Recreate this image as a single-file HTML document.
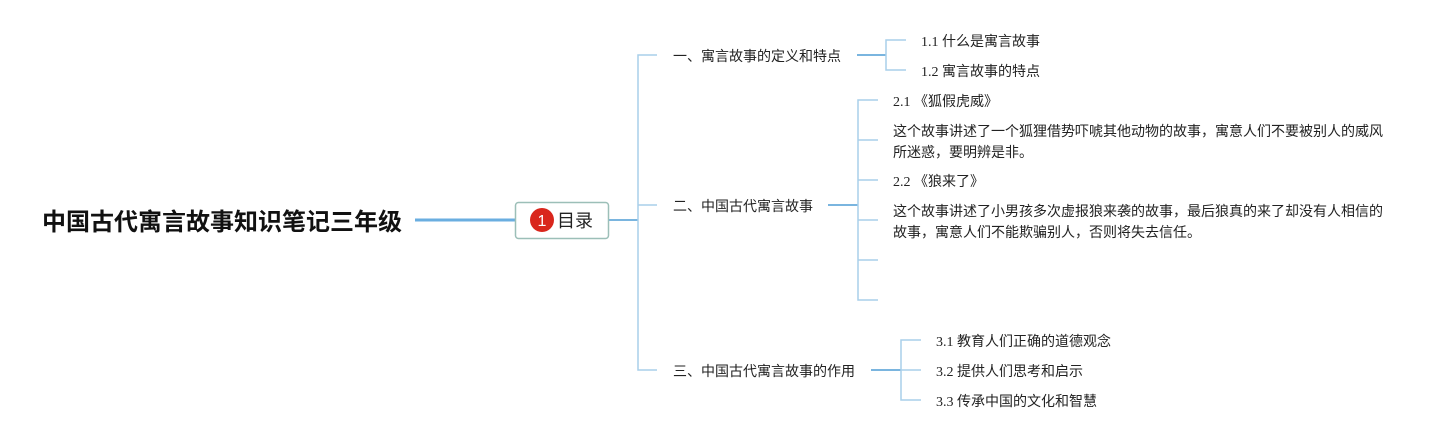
<!DOCTYPE html>
<html><head><meta charset="utf-8"><style>
body{margin:0;background:#fff;width:1453px;height:440px;position:relative;overflow:hidden;font-family:"Liberation Serif","Noto Sans CJK SC",sans-serif;color:#222}
.t{position:absolute;font-size:14px;line-height:21px;white-space:nowrap}
</style></head><body>
<svg width="1453" height="440" style="position:absolute;left:0;top:0">
<g fill="none" stroke-linecap="butt">
<line x1="415" y1="220" x2="515" y2="220" stroke="#6aaee0" stroke-width="3"/>
<line x1="608" y1="220" x2="638" y2="220" stroke="#7ab5df" stroke-width="2"/>
<path d="M657 55H638V370H657M638 205H657" stroke="#a9cfea" stroke-width="1.5"/>
<line x1="857" y1="55" x2="886" y2="55" stroke="#7ab5df" stroke-width="2"/>
<path d="M906 40H886V70H906" stroke="#a9cfea" stroke-width="1.5"/>
<line x1="828" y1="205" x2="858" y2="205" stroke="#7ab5df" stroke-width="2"/>
<path d="M878 100H858V300H878M858 140H878M858 180H878M858 220H878M858 260H878" stroke="#a9cfea" stroke-width="1.5"/>
<line x1="871" y1="370" x2="901" y2="370" stroke="#7ab5df" stroke-width="2"/>
<path d="M921 340H901V400H921M901 370H921" stroke="#a9cfea" stroke-width="1.5"/>
</g>
<rect x="515.5" y="202.5" width="93" height="36" rx="3" fill="#fff" stroke="#9cbfb8" stroke-width="1.5"/>
<circle cx="542" cy="220" r="12" fill="#d9261c"/>
<text x="542" y="226" font-size="16" fill="#fff" text-anchor="middle" font-family="Liberation Sans,sans-serif">1</text>
</svg>
<div class="t" style="left:42px;top:208px;font-size:24px;line-height:30px;font-weight:bold;color:#111;font-family:'Liberation Sans','Noto Sans CJK SC',sans-serif">中国古代寓言故事知识笔记三年级</div>
<div class="t" style="left:557px;top:210px;font-size:18px;line-height:22px;font-family:'Liberation Sans','Noto Sans CJK SC',sans-serif">目录</div>
<div class="t" style="left:673px;top:47px">一、寓言故事的定义和特点</div>
<div class="t" style="left:673px;top:197px">二、中国古代寓言故事</div>
<div class="t" style="left:673px;top:362px">三、中国古代寓言故事的作用</div>
<div class="t" style="left:921px;top:32px">1.1 什么是寓言故事</div>
<div class="t" style="left:921px;top:62px">1.2 寓言故事的特点</div>
<div class="t" style="left:893px;top:92px">2.1 《狐假虎威》</div>
<div class="t" style="left:893px;top:122px">这个故事讲述了一个狐狸借势吓唬其他动物的故事，寓意人们不要被别人的威风<br>所迷惑，要明辨是非。</div>
<div class="t" style="left:893px;top:172px">2.2 《狼来了》</div>
<div class="t" style="left:893px;top:202px">这个故事讲述了小男孩多次虚报狼来袭的故事，最后狼真的来了却没有人相信的<br>故事，寓意人们不能欺骗别人，否则将失去信任。</div>
<div class="t" style="left:936px;top:332px">3.1 教育人们正确的道德观念</div>
<div class="t" style="left:936px;top:362px">3.2 提供人们思考和启示</div>
<div class="t" style="left:936px;top:392px">3.3 传承中国的文化和智慧</div>
</body></html>
